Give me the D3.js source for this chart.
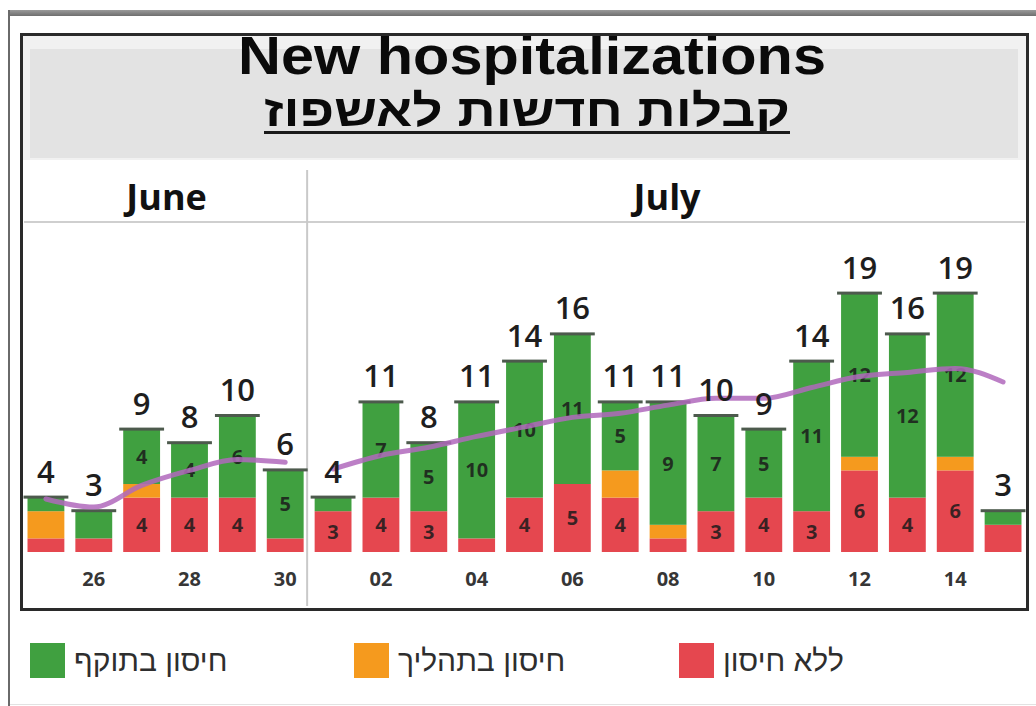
<!DOCTYPE html>
<html>
<head>
<meta charset="utf-8">
<script src="https://cdn.jsdelivr.net/npm/d3@7"></script>
<style>
  html, body { margin: 0; padding: 0; background: #fff; }
  svg { display: block; }
</style>
</head>
<body>
<svg id="chart" width="1036" height="706"></svg>
<script>
// Daily new hospitalizations, 25 June – 15 July
const days = ["06-25","06-26","06-27","06-28","06-29","06-30",
              "07-01","07-02","07-03","07-04","07-05","07-06","07-07","07-08",
              "07-09","07-10","07-11","07-12","07-13","07-14","07-15"];
const months = ["June","July"];
const vaccinated   = [1,2,4,4,6,5, 1,7,5,10,10,11,5,9,7,5,11,12,12,12,1];
const inProgress   = [2,0,1,0,0,0, 0,0,0,0,0,0,2,1,0,0,0,1,0,1,0];
const unvaccinated = [1,1,4,4,4,1, 3,4,3,1,4,5,4,1,3,4,3,6,4,6,2];
// rolling average, drawn as one line per month
const rollingAvg   = [3.9,3.3,4.9,6.0,6.8,6.6,
                      6.1,7.1,7.7,8.5,9.2,9.9,10.2,10.8,11.3,11.3,12.1,12.9,13.2,13.5,12.5];
const tickDays = ["06-26","06-28","06-30","07-02","07-04","07-06","07-08","07-10","07-12","07-14"];
const tickLabels = ["26","28","30","02","04","06","08","10","12","14"];
const legendLabels = ["חיסון בתוקף","חיסון בתהליך","ללא חיסון"];

const colors = { unvaccinated: "#e5474f", inProgress: "#f59a1e", vaccinated: "#40a040" };

const svg = d3.select("#chart");
const font = "'Open Sans', 'Noto Sans', sans-serif";
const titleFont = "'Liberation Sans', Arial, sans-serif";

const rows = days.map((d, i) => ({
  day: d,
  month: d.startsWith("06") ? "June" : "July",
  unvaccinated: unvaccinated[i],
  inProgress: inProgress[i],
  vaccinated: vaccinated[i],
  total: unvaccinated[i] + inProgress[i] + vaccinated[i],
  avg: rollingAvg[i]
}));

const x = d3.scaleBand().domain(days).range([22, 1027]).paddingInner(0.23).paddingOuter(0.115);
const y = d3.scaleLinear().domain([0, 20]).range([552, 280]);

// ---- outer frame ----
const topGrad = svg.append("defs").append("linearGradient")
  .attr("id", "topbar").attr("x1", 0).attr("x2", 0).attr("y1", 0).attr("y2", 1);
topGrad.append("stop").attr("offset", 0).attr("stop-color", "#9a9a9a");
topGrad.append("stop").attr("offset", 1).attr("stop-color", "#6e6e6e");
svg.append("rect").attr("x", 8).attr("y", 10).attr("width", 1028).attr("height", 6).attr("fill", "url(#topbar)");
svg.append("rect").attr("x", 8).attr("y", 10).attr("width", 2).attr("height", 696).attr("fill", "#6a6a6a");
svg.append("line").attr("x1", 10).attr("x2", 1036).attr("y1", 704.5).attr("y2", 704.5)
  .attr("stroke", "#e2e2e2").attr("stroke-width", 1);

// ---- title band ----
svg.append("rect").attr("x", 23).attr("y", 36).attr("width", 1003).attr("height", 124).attr("fill", "#f1f1f1");
svg.append("rect").attr("x", 30).attr("y", 49).attr("width", 988).attr("height", 109).attr("fill", "#e3e3e3");

svg.append("text").attr("x", 532).attr("y", 74)
  .attr("text-anchor", "middle").attr("font-family", titleFont).attr("font-weight", 700)
  .attr("font-size", 54).attr("fill", "#0a0a0a")
  .attr("textLength", 588).attr("lengthAdjust", "spacingAndGlyphs")
  .text("New hospitalizations");
svg.append("text").attr("x", 527).attr("y", 126)
  .attr("text-anchor", "middle").attr("font-family", titleFont).attr("font-weight", 700)
  .attr("font-size", 44).attr("fill", "#0a0a0a").attr("direction", "rtl")
  .attr("textLength", 526).attr("lengthAdjust", "spacingAndGlyphs")
  .text("קבלות חדשות לאשפוז");
svg.append("rect").attr("x", 264).attr("y", 131).attr("width", 526).attr("height", 3).attr("fill", "#1a1a1a");

// ---- month header + dividers ----
const monthExtent = m => {
  const ds = rows.filter(r => r.month === m).map(r => r.day);
  return [x(ds[0]) - x.step() * x.paddingInner() / 2, x(ds[ds.length - 1]) + x.bandwidth() + x.step() * x.paddingInner() / 2];
};
svg.append("line").attr("x1", 24).attr("x2", 1025).attr("y1", 222).attr("y2", 222)
  .attr("stroke", "#cfcfcf").attr("stroke-width", 2);
const split = monthExtent("July")[0] - 2;
svg.append("line").attr("x1", split).attr("x2", split).attr("y1", 170).attr("y2", 606)
  .attr("stroke", "#c9c9c9").attr("stroke-width", 2);
svg.selectAll("text.month").data(months).join("text").attr("class", "month")
  .attr("x", m => { const e = monthExtent(m); return m === "June" ? (24 + e[1]) / 2 : (e[0] + 1025) / 2; })
  .attr("y", 210).attr("text-anchor", "middle")
  .attr("font-family", font).attr("font-weight", 700).attr("font-size", 36).attr("fill", "#111")
  .text(d => d);

// ---- stacked bars ----
const keys = ["unvaccinated", "inProgress", "vaccinated"];
const stacked = d3.stack().keys(keys)(rows);
const gBars = svg.append("g");
stacked.forEach(layer => {
  gBars.selectAll(null).data(layer).join("rect")
    .attr("x", d => x(d.data.day))
    .attr("width", x.bandwidth())
    .attr("y", d => y(d[1]))
    .attr("height", d => y(d[0]) - y(d[1]))
    .attr("fill", colors[layer.key]);
});

// total caps
const capExtra = 4;
svg.append("g").selectAll("rect").data(rows).join("rect")
  .attr("x", d => x(d.day) - capExtra)
  .attr("width", x.bandwidth() + capExtra * 2)
  .attr("y", d => y(d.total) - 2)
  .attr("height", 3)
  .attr("fill", "#4d5a4d");

// segment values
stacked.forEach(layer => {
  svg.append("g").selectAll("text").data(layer.filter(d => d[1] - d[0] >= 3)).join("text")
    .attr("x", d => x(d.data.day) + x.bandwidth() / 2)
    .attr("y", d => (y(d[0]) + y(d[1])) / 2 + 7)
    .attr("text-anchor", "middle")
    .attr("font-family", font).attr("font-weight", 700).attr("font-size", 20)
    .attr("fill", "#1b1b1b").attr("fill-opacity", 0.85)
    .text(d => d[1] - d[0]);
});

// rolling average line, one segment per month
const line = d3.line()
  .x(d => x(d.day) + x.bandwidth() / 2)
  .y(d => y(d.avg))
  .curve(d3.curveMonotoneX);
months.forEach(m => {
  svg.append("path").datum(rows.filter(r => r.month === m))
    .attr("d", line).attr("fill", "none")
    .attr("stroke", "#b068bc").attr("stroke-opacity", 0.85)
    .attr("stroke-width", 5).attr("stroke-linecap", "round");
});

// totals
svg.append("g").selectAll("text").data(rows).join("text")
  .attr("x", d => x(d.day) + x.bandwidth() / 2)
  .attr("y", d => y(d.total) - 15)
  .attr("text-anchor", "middle")
  .attr("font-family", font).attr("font-weight", 600).attr("font-size", 31).attr("fill", "#1e1e1e")
  .text(d => d.total);

// x axis ticks (labels only)
const xAxis = d3.axisBottom(x).tickValues(tickDays)
  .tickFormat(d => tickLabels[tickDays.indexOf(d)]).tickSize(0).tickPadding(0);
const gx = svg.append("g").attr("transform", "translate(0,572)").call(xAxis);
gx.select(".domain").remove();
gx.selectAll("text").attr("font-family", font).attr("font-weight", 700)
  .attr("font-size", 20).attr("fill", "#363636").attr("dy", "0.71em");

// plot frame
svg.append("rect").attr("x", 21.5).attr("y", 34.5).attr("width", 1006).attr("height", 575)
  .attr("fill", "none").attr("stroke", "#2a2a2a").attr("stroke-width", 3);

// ---- legend ----
const legendX = [30, 354, 679];
const legendKeys = ["vaccinated", "inProgress", "unvaccinated"];
const lg = svg.append("g").selectAll("g").data(legendKeys).join("g")
  .attr("transform", (d, i) => `translate(${legendX[i]},643)`);
lg.append("rect").attr("width", 35).attr("height", 35).attr("fill", d => colors[d]);
lg.append("text").attr("x", 44).attr("y", 28)
  .attr("font-family", "'Liberation Sans Narrow', 'Liberation Sans', sans-serif")
  .attr("font-size", 30).attr("fill", "#2e2e2e")
  .attr("text-anchor", "start").attr("direction", "ltr").attr("unicode-bidi", "plaintext")
  .text((d, i) => legendLabels[i]);
</script>
</body>
</html>
